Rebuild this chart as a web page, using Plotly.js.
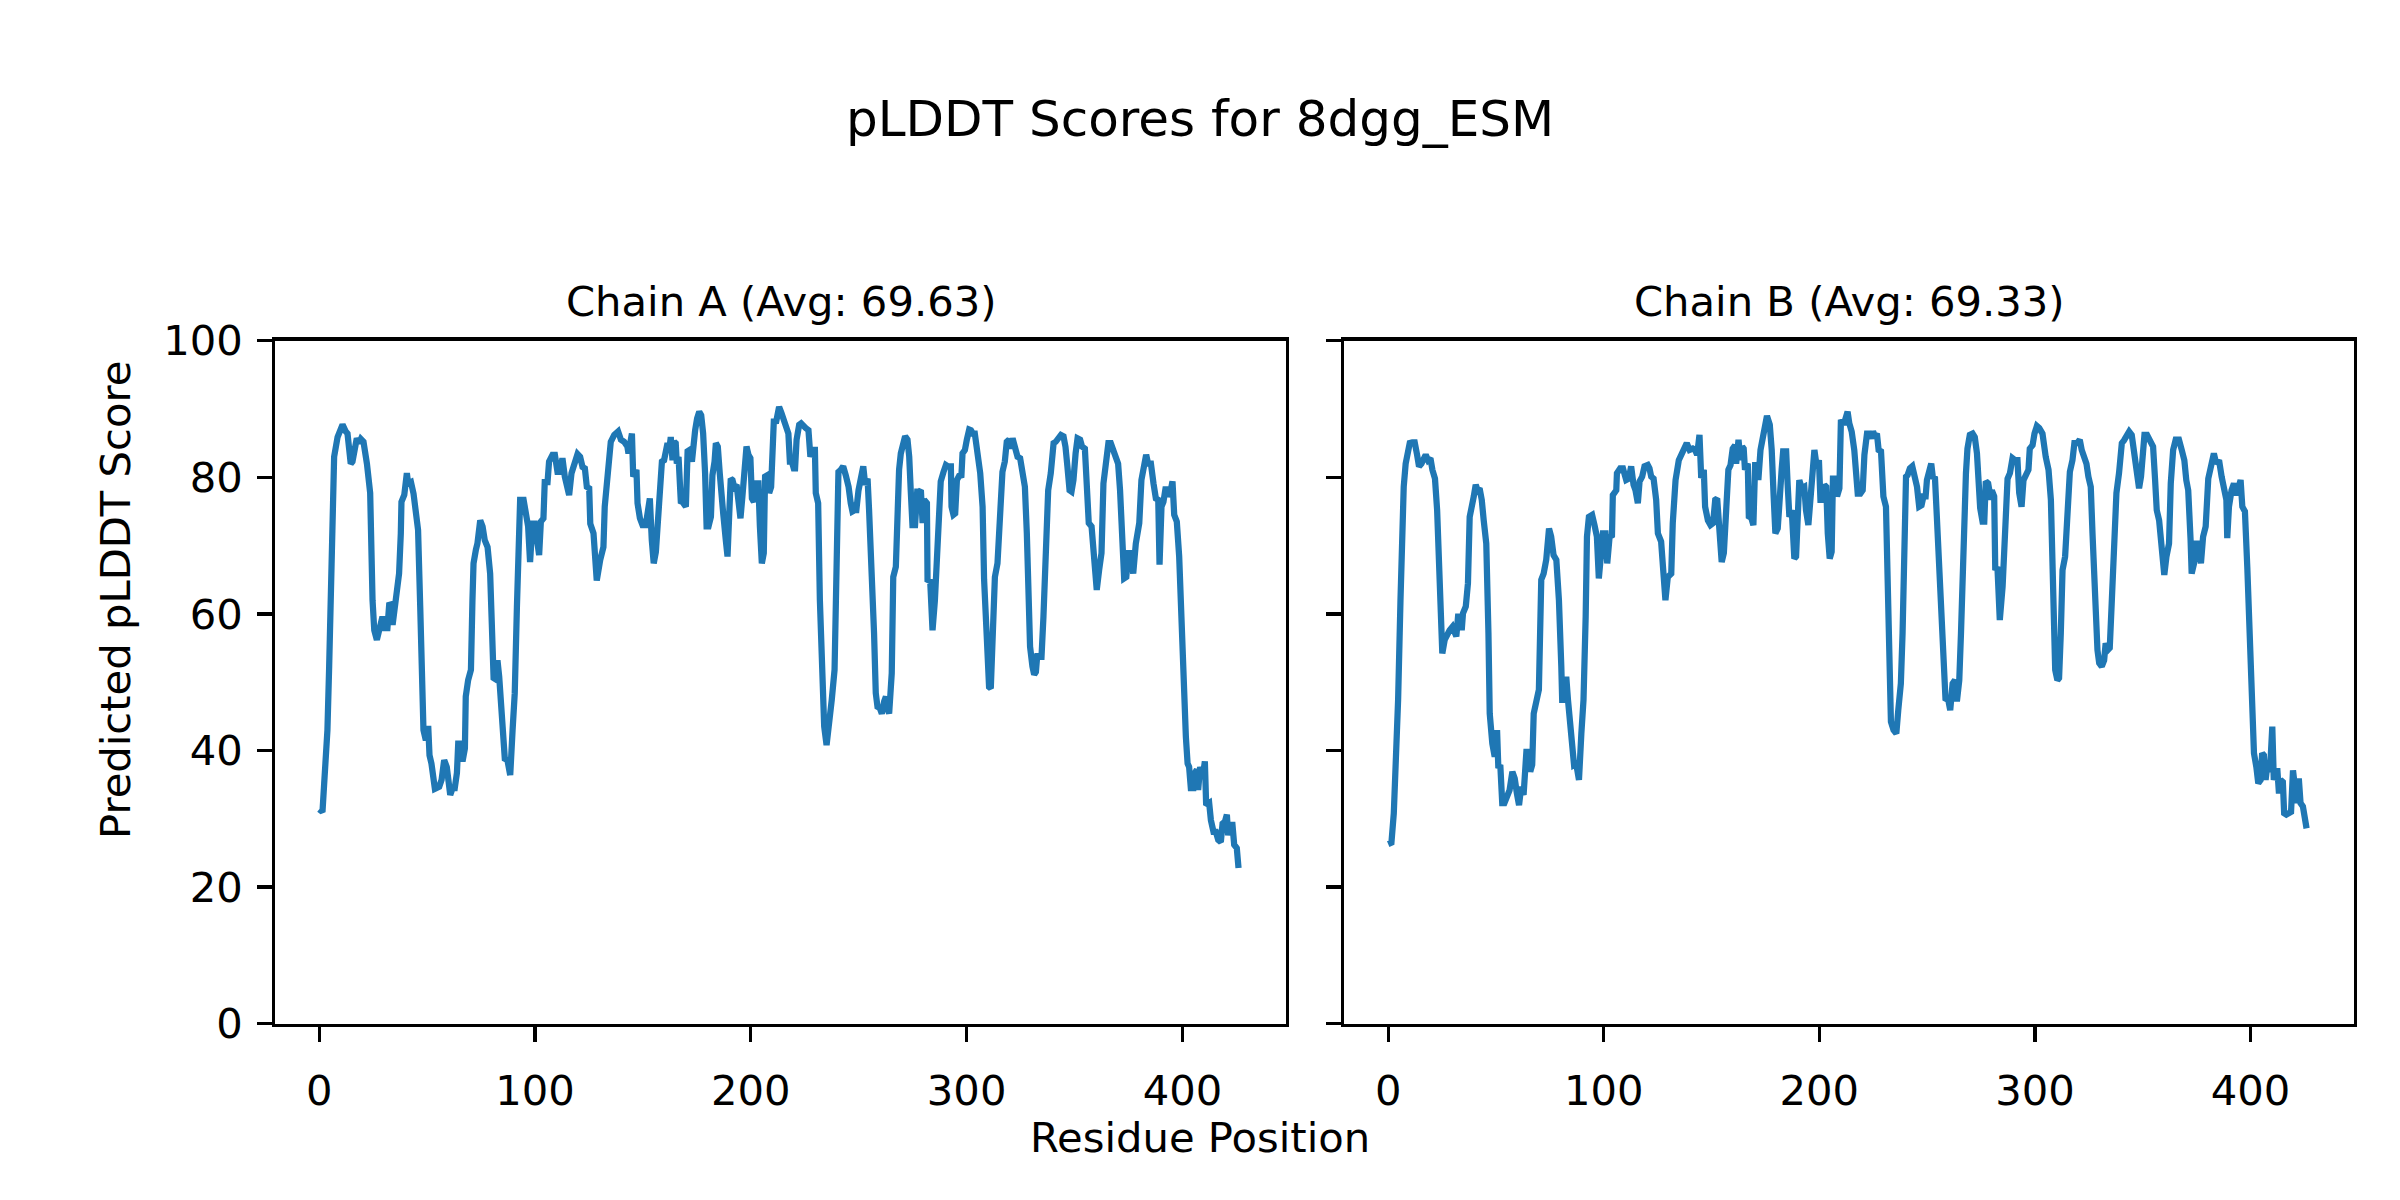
<!DOCTYPE html>
<html>
<head>
<meta charset="utf-8">
<script src="https://cdn.plot.ly/plotly-3.0.1.min.js"></script>
<style>html,body{margin:0;padding:0;background:#fff;}#chart{width:2400px;height:1200px;}</style>
</head>
<body>
<div id="chart"></div>
<script>
// ---- Data ----
const figureTitle = "pLDDT Scores for 8dgg_ESM";
const chainTitles = ["Chain A (Avg: 69.63)", "Chain B (Avg: 69.33)"];
const xLabel = "Residue Position";
const yLabel = "Predicted pLDDT Score";
const xTickVals = [0, 100, 200, 300, 400];
const yTickVals = [0, 20, 40, 60, 80, 100];

const chainA_res = [0,1.5,2.3,3.8,4.6,5.4,6.2,6.9,8.5,9.7,10.8,12.3,13.1,14.6,15.4,17.4,18.5,19.3,20.5,22.1,23.6,24.7,25.5,26.7,27.8,29.3,30.4,31.6,32.4,33.5,34.0,34.7,36.0,37.0,37.8,38.1,39.4,40.6,41.2,42.5,43.7,44.8,45.8,46.8,47.4,48.3,49.4,50.5,51.1,52.0,53.6,55.6,56.7,57.9,59.1,60.7,61.8,62.8,63.8,64.4,65.6,66.4,67.5,67.9,69.0,70.3,71.0,71.5,72.6,73.3,74.6,75.7,76.7,78.0,79.2,80.3,80.8,81.8,82.6,83.4,84.2,85.4,86.0,87.2,88.5,89.6,90.6,91.6,92.2,93.1,94.7,95.7,96.8,97.7,98.8,99.9,101.1,101.9,102.7,103.9,104.5,105.8,106.5,108.1,109.2,110.4,111.6,112.7,113.8,114.7,115.8,116.9,118.1,119.7,120.9,122.0,123.1,124.0,125.1,125.6,127.1,127.7,128.6,130.2,131.7,132.3,133.6,135.1,136.7,138.5,139.8,141.3,142.8,143.3,144.9,145.5,147.0,147.5,148.6,149.8,151.3,152.6,153.2,154.1,155.0,156.0,156.7,157.5,158.8,159.8,160.6,161.4,162.2,162.9,163.7,164.5,165.2,165.7,166.5,167.6,168.3,169.1,169.9,170.7,171.7,172.7,173.3,174.2,175.1,176.1,177.0,177.9,178.8,179.5,180.4,181.5,182.2,183.2,183.8,184.7,185.6,186.6,187.2,188.4,189.2,190.0,190.7,191.5,192.3,193.4,194.3,195.2,196.1,196.9,198.0,198.9,199.8,200.5,201.4,202.3,203.5,204.2,205.1,206.0,206.6,207.7,208.5,209.4,210.0,210.7,211.6,212.4,213.1,214.2,215.4,216.5,217.4,218.1,219.0,219.9,220.5,221.2,222.4,223.3,224.3,225.5,226.7,227.6,228.6,229.7,230.1,231.2,232.0,232.9,234.0,235.1,236.3,237.5,238.8,239.7,240.6,241.7,242.8,244.0,245.3,246.3,247.1,248.3,248.9,249.9,250.9,252.1,253.0,254.1,254.8,256.1,257.1,257.9,258.7,259.8,260.7,261.8,262.6,263.3,264.1,265.3,266.0,267.2,268.0,268.7,269.5,270.6,271.5,272.6,273.4,274.1,274.9,276.1,277.1,278.0,278.8,279.6,280.3,281.6,281.9,283.1,284.2,285.3,286.2,287.3,288.0,289.3,290.4,291.4,292.7,293.0,293.9,294.7,295.5,296.5,297.6,298.1,299.2,300.1,301.2,302.0,302.9,303.8,305.0,306.3,307.4,308.1,309.4,310.4,311.2,312.0,313.1,314.3,315.5,316.6,317.7,318.6,319.7,320.2,321.3,322.3,323.6,324.8,325.9,327.0,327.9,328.5,329.4,330.5,331.3,332.1,332.8,333.8,334.7,335.6,336.7,337.8,339.0,340.3,341.3,342.4,343.7,344.9,345.8,346.7,347.7,348.6,349.5,350.5,351.4,352.6,353.5,354.8,355.7,356.6,357.9,358.8,360.3,361.4,362.5,363.4,364.5,365.7,366.8,368.1,369.1,370.2,371.1,372.1,373.0,374.0,374.9,376.1,377.2,378.4,380.0,381.0,382.3,383.2,384.1,385.4,386.6,387.7,388.8,389.4,390.3,391.2,392.3,393.4,394.6,395.4,396.2,397.4,398.5,399.6,400.8,401.6,402.4,403.1,403.9,405.1,405.8,406.7,407.3,408.2,409.3,410.4,411.0,412.4,413.2,414.4,415.5,416.6,417.8,418.6,419.7,420.6,421.2,422.1,423.2,424.0,425.2,426.0];
const chainA_plddt = [31.4,31.0,35.2,43.0,52.3,66.9,79.1,83.0,85.9,87.2,87.7,86.7,86.4,82.0,82.3,85.7,85.0,85.6,85.2,82.0,77.7,62.0,57.6,56.2,58.1,59.6,57.9,57.9,61.3,61.4,58.4,60.1,62.5,65.9,71.8,76.4,77.4,80.6,79.1,79.3,77.6,75.2,72.3,61.0,47.4,43.0,41.5,43.6,39.3,38.1,34.4,34.7,35.7,38.6,37.6,33.5,34.5,34.5,36.7,41.0,41.0,38.4,40.3,47.9,50.3,51.8,62.0,67.4,69.4,70.3,73.7,72.8,70.8,69.8,65.9,54.7,50.6,50.4,53.2,50.8,46.4,42.5,38.8,38.6,36.4,43.0,48.4,61.0,72.3,76.7,76.7,75.2,72.8,67.6,73.2,73.2,69.8,68.6,73.5,74.0,79.3,79.3,82.3,83.3,83.3,80.8,80.8,82.8,80.1,78.9,77.4,80.6,81.8,83.4,83.0,81.5,81.3,78.6,78.4,73.2,71.8,68.4,64.9,67.9,69.8,75.7,81.5,85.2,86.2,86.7,85.5,85.2,84.5,83.5,86.4,80.1,81.1,76.2,74.0,73.0,73.0,76.9,76.9,70.8,67.4,69.1,72.8,79.1,82.3,82.5,84.7,85.0,84.0,85.9,82.5,85.2,85.0,82.0,83.0,76.2,76.4,75.9,75.7,83.8,84.0,82.3,85.5,86.9,88.6,89.6,89.1,86.4,80.6,72.8,72.8,74.2,80.3,82.3,85.0,84.5,80.6,75.5,74.7,70.8,68.4,74.7,79.8,79.6,78.6,78.9,75.7,74.0,77.2,80.3,84.5,83.3,82.8,76.9,76.4,79.1,79.1,72.8,67.4,68.9,80.1,80.3,77.7,78.6,83.5,88.6,87.9,89.1,90.3,89.4,88.1,86.9,86.4,82.3,82.3,81.3,81.3,85.5,87.7,87.9,87.4,87.2,86.9,83.0,84.0,84.0,77.7,76.2,62.0,49.8,43.5,40.8,43.5,47.4,51.8,66.9,80.8,81.1,81.6,80.3,78.6,76.2,75.0,75.2,75.2,78.1,80.3,81.6,78.9,79.8,75.2,66.9,57.2,48.4,46.4,46.2,45.4,47.2,47.9,46.2,45.4,51.3,65.4,66.9,75.7,81.1,83.5,85.6,86.0,85.5,83.0,78.1,73.0,73.0,77.9,77.9,78.1,73.3,76.7,76.2,64.7,65.0,57.6,62.0,69.4,75.7,79.4,80.8,81.8,81.6,81.6,75.7,74.5,74.7,79.6,80.2,80.3,83.5,84.0,85.5,87.0,86.9,86.4,86.4,84.0,80.6,75.7,65.0,56.2,49.3,49.1,57.2,65.4,67.4,72.8,80.8,82.3,85.2,85.5,84.2,85.7,84.5,83.0,82.8,80.6,78.6,71.8,64.0,55.2,52.3,51.1,51.5,54.2,53.7,53.7,59.6,66.9,78.1,80.6,85.0,85.2,85.7,86.2,86.0,84.5,81.6,78.1,77.9,79.6,83.5,85.7,85.5,84.5,84.2,78.6,73.3,72.8,68.4,63.5,66.4,68.9,79.1,82.8,85.0,85.0,84.0,82.8,82.0,78.1,71.8,65.2,65.4,68.9,68.9,65.9,70.3,73.3,79.6,81.6,83.3,82.0,82.0,79.1,76.9,76.7,67.2,75.7,76.4,78.6,77.2,78.1,79.4,74.5,73.5,68.4,57.2,49.8,42.0,38.1,37.6,34.5,34.5,36.7,37.2,34.2,37.6,35.9,38.4,32.0,32.3,29.8,28.1,28.1,26.9,26.6,29.3,29.6,30.6,27.6,29.1,29.1,26.2,25.7,22.8];

const chainB_res = [0,1.5,2.6,3.5,4.6,5.7,6.6,7.2,8.1,9.2,10.0,11.2,12.3,13.4,14.3,15.4,16.5,17.4,18.5,19.6,20.5,21.7,22.7,23.6,24.2,25.1,26.2,27.3,28.5,29.8,30.9,31.6,32.4,33.5,34.1,34.7,36.0,37.0,37.8,38.6,39.7,40.6,41.5,42.4,43.4,44.3,45.5,46.5,47.1,48.3,49.4,50.5,51.1,52.0,52.9,53.9,55.1,56.3,57.6,58.7,59.7,60.7,61.7,62.8,64.1,65.0,65.9,66.8,67.5,68.7,69.9,71.0,72.1,73.3,74.6,75.6,76.7,78.0,79.2,80.3,80.7,81.8,82.6,83.4,84.1,85.4,86.2,87.2,88.5,89.6,90.6,91.6,92.2,93.1,94.6,95.7,96.8,97.7,98.8,99.6,100.8,101.6,102.7,103.8,104.2,105.8,106.1,107.6,108.9,110.4,111.6,112.7,113.8,114.7,115.8,116.6,117.8,118.9,120.4,121.2,122.0,123.1,124.3,125.1,126.6,127.4,128.6,129.7,131.3,132.0,133.3,134.8,136.4,137.4,138.5,139.8,141.3,142.4,143.3,144.4,145.2,146.4,147.0,148.3,149.5,150.7,151.7,152.6,153.5,154.7,155.7,156.7,157.8,158.8,159.8,160.9,161.4,162.5,163.4,164.2,164.9,165.5,166.8,167.3,168.3,169.4,170.2,171.1,171.7,172.7,173.7,174.8,175.7,177.0,177.9,178.8,179.6,180.7,181.6,182.5,183.2,184.6,185.3,186.1,187.2,188.4,189.2,190.0,190.7,191.8,193.0,193.8,194.9,196.1,196.9,197.7,198.9,199.8,200.5,201.4,202.3,203.2,203.9,204.8,205.7,206.3,207.3,208.2,209.3,210.0,211.3,212.4,213.1,213.9,215.0,216.2,217.0,217.8,219.0,220.1,220.9,222.1,223.2,224.1,224.9,225.8,226.7,227.5,228.6,229.7,230.9,231.7,232.4,233.2,234.4,235.7,236.6,237.8,238.6,239.4,240.2,240.9,242.0,243.1,244.0,245.3,246.3,247.4,248.3,249.3,249.9,251.0,251.9,252.7,253.6,254.5,255.6,256.7,257.6,258.5,259.8,260.7,261.8,262.9,263.8,264.9,265.7,266.4,267.2,268.0,268.7,269.8,271.1,272.1,273.1,273.7,274.6,275.7,276.5,277.2,278.3,279.6,280.0,281.1,281.6,282.6,283.7,285.0,286.2,287.3,288.4,289.6,290.8,291.9,292.7,293.8,294.7,295.8,297.0,297.6,298.9,299.8,300.9,302.0,303.5,305.0,306.3,307.4,308.1,309.4,310.4,311.2,312.0,312.8,314.0,315.1,316.2,317.4,318.3,319.6,320.8,321.7,322.8,323.9,324.8,325.9,326.7,327.9,329.0,329.8,331.0,332.1,332.8,333.8,334.7,335.6,336.7,337.8,339.0,340.3,341.3,342.4,343.7,344.9,345.8,346.7,347.5,348.3,349.2,350.1,350.8,352.0,352.9,353.9,354.8,355.7,356.5,357.6,358.3,359.1,360.0,361.0,362.2,363.0,364.1,365.3,366.8,368.1,369.3,370.2,371.1,372.2,372.7,373.8,374.9,375.8,377.0,378.0,379.2,380.4,381.5,383.0,384.1,385.4,386.6,387.8,388.8,389.2,390.0,391.2,392.3,393.4,394.6,395.4,396.2,397.4,398.5,399.6,400.8,401.6,402.7,403.6,404.7,405.4,406.2,407.0,407.7,408.5,409.3,410.1,410.8,411.6,412.4,413.2,413.9,415.0,415.6,416.6,417.8,418.8,419.7,420.6,421.5,422.4,423.2,424.3,425.2,426.0];
const chainB_plddt = [26.3,26.5,30.8,37.6,47.4,62.0,73.3,78.6,82.0,84.0,85.0,85.1,85.1,83.3,81.6,82.0,82.8,83.3,82.5,82.8,81.1,79.8,75.2,67.9,62.0,54.2,56.2,57.2,57.6,58.1,56.9,56.7,59.6,59.6,57.6,60.1,61.1,64.5,74.2,75.2,77.2,78.9,78.1,78.4,76.7,73.7,70.3,57.2,45.4,41.0,39.1,43.0,37.4,37.9,32.3,32.3,33.5,34.2,36.9,35.9,33.7,32.0,34.7,33.5,39.8,39.8,36.9,37.9,45.4,47.4,48.9,65.0,65.9,67.9,72.5,71.3,68.6,67.9,62.0,52.3,47.4,47.4,50.8,47.4,44.5,40.6,37.9,38.1,35.7,42.5,47.4,59.6,71.3,74.2,74.5,73.0,71.3,65.2,68.9,71.8,71.8,67.4,71.3,71.5,77.4,78.1,80.6,81.3,81.3,79.6,79.8,81.6,78.9,78.1,76.2,79.4,80.1,81.6,81.8,81.3,80.1,79.8,76.7,71.8,70.6,65.9,62.0,65.4,65.9,73.3,79.6,82.5,83.8,84.5,85.0,84.0,84.2,84.0,83.3,86.2,79.9,81.1,75.7,73.7,73.0,73.3,76.7,76.9,71.8,67.6,68.9,75.2,81.1,81.8,84.2,84.7,82.0,85.5,82.5,84.5,84.2,81.1,82.0,74.0,74.2,73.0,81.8,81.8,79.6,84.0,86.0,88.1,89.0,87.7,84.0,77.2,71.8,72.5,79.1,81.1,83.8,83.8,78.9,74.2,75.2,68.1,68.4,76.7,79.6,78.4,78.6,75.2,73.0,77.7,80.8,84.0,81.3,82.5,76.7,76.7,78.9,78.6,71.8,68.1,69.1,79.8,79.8,77.2,78.4,88.4,87.7,88.6,89.6,87.9,86.7,84.0,81.6,77.6,77.6,78.1,83.3,86.4,86.4,85.7,86.7,86.0,86.4,84.0,83.8,77.2,75.7,62.0,49.8,44.2,43.0,42.5,45.9,49.8,57.2,69.4,80.1,80.3,81.3,81.6,80.3,78.6,75.7,75.9,77.2,77.2,79.6,80.6,82.0,79.8,80.1,74.2,66.9,59.6,50.8,47.6,47.4,45.9,49.8,50.3,47.2,50.3,57.2,66.9,68.1,80.6,84.2,86.2,86.4,85.9,83.5,78.1,75.5,73.5,73.5,79.4,79.1,76.7,78.1,77.2,66.4,66.9,59.1,64.0,75.2,79.8,80.6,82.8,82.5,82.5,77.7,75.7,79.6,80.6,81.1,84.2,84.7,86.4,87.5,87.2,86.4,83.0,81.1,76.7,64.0,51.8,50.3,50.6,57.2,66.4,68.4,74.2,80.8,82.5,85.0,85.0,85.5,84.0,82.8,82.0,80.1,78.6,71.8,59.6,54.7,52.8,52.3,53.2,55.7,54.7,55.0,61.5,69.4,77.7,80.6,85.0,85.4,86.0,86.7,86.2,84.0,81.6,78.9,78.4,80.1,84.0,86.2,86.2,85.5,85.0,84.5,79.8,75.2,73.7,71.8,68.4,65.7,68.4,70.3,79.1,84.0,85.5,85.5,84.0,82.5,79.6,78.1,70.8,65.9,67.4,70.3,70.3,67.4,71.3,72.8,79.8,81.6,83.5,82.0,82.5,80.1,78.4,76.7,71.1,75.7,78.1,79.1,77.4,79.4,79.6,75.7,75.0,66.9,57.2,48.4,39.6,37.6,35.2,35.7,39.6,39.3,35.7,37.6,36.9,38.6,43.5,35.7,37.1,37.4,33.7,35.7,35.4,30.8,30.6,30.8,31.0,37.1,34.0,32.3,35.9,32.3,31.8,29.6,28.6];

// ---- Styling ----
const FONT = "DejaVu Sans, Liberation Sans, sans-serif";
const LINE_COLOR = "#1f77b4";
const SZ = 41.7;

const traces = [
  {x: chainA_res, y: chainA_plddt, type: "scatter", mode: "lines",
   line: {color: LINE_COLOR, width: 6.25}, xaxis: "x", yaxis: "y", hoverinfo: "skip"},
  {x: chainB_res, y: chainB_plddt, type: "scatter", mode: "lines",
   line: {color: LINE_COLOR, width: 6.25}, xaxis: "x2", yaxis: "y2", hoverinfo: "skip"}
];

function axisBase() {
  return {
    showgrid: false, zeroline: false, showline: true, mirror: true,
    linecolor: "#000", linewidth: 3.3,
    ticks: "outside", ticklen: 14.6, tickwidth: 3.3, tickcolor: "#000",
    tickfont: {family: FONT, size: SZ, color: "#000"}
  };
}

const xRange = [-20.5, 448];
const dA = [275/2400, 1286/2400];
const dB = [1344/2400, 2354/2400];
const dY = [1 - 1023.7/1200, 1 - 340.7/1200];

const layout = {
  width: 2400, height: 1200,
  margin: {l: 0, r: 0, t: 0, b: 0},
  paper_bgcolor: "#fff", plot_bgcolor: "#fff",
  showlegend: false,
  font: {family: FONT, color: "#000"},
  xaxis: Object.assign(axisBase(), {domain: dA, range: xRange, tickvals: xTickVals, anchor: "y", ticklabelstandoff: 13}),
  yaxis: Object.assign(axisBase(), {domain: dY, range: [0, 100], tickvals: yTickVals, anchor: "x", ticklabelstandoff: 6}),
  xaxis2: Object.assign(axisBase(), {domain: dB, range: xRange, tickvals: xTickVals, anchor: "y2", ticklabelstandoff: 13}),
  yaxis2: Object.assign(axisBase(), {domain: dY, range: [0, 100], tickvals: yTickVals, anchor: "x2", showticklabels: false}),
  annotations: [
    {text: figureTitle, xref: "paper", yref: "paper", x: 0.5, y: 1 - 119/1200,
     xanchor: "center", yanchor: "middle", showarrow: false, font: {family: FONT, size: 50, color: "#000"}},
    {text: chainTitles[0], xref: "paper", yref: "paper", x: (dA[0]+dA[1])/2, y: 1 - 301/1200,
     xanchor: "center", yanchor: "middle", showarrow: false, font: {family: FONT, size: SZ, color: "#000"}},
    {text: chainTitles[1], xref: "paper", yref: "paper", x: (dB[0]+dB[1])/2, y: 1 - 301/1200,
     xanchor: "center", yanchor: "middle", showarrow: false, font: {family: FONT, size: SZ, color: "#000"}},
    {text: xLabel, xref: "paper", yref: "paper", x: 0.5, y: 1 - 1137/1200,
     xanchor: "center", yanchor: "middle", showarrow: false, font: {family: FONT, size: SZ, color: "#000"}},
    {text: yLabel, xref: "paper", yref: "paper", x: 115/2400, y: 0.5, textangle: -90,
     xanchor: "center", yanchor: "middle", showarrow: false, font: {family: FONT, size: SZ, color: "#000"}}
  ]
};

Plotly.newPlot("chart", traces, layout, {staticPlot: true, displayModeBar: false});
</script>
</body>
</html>
